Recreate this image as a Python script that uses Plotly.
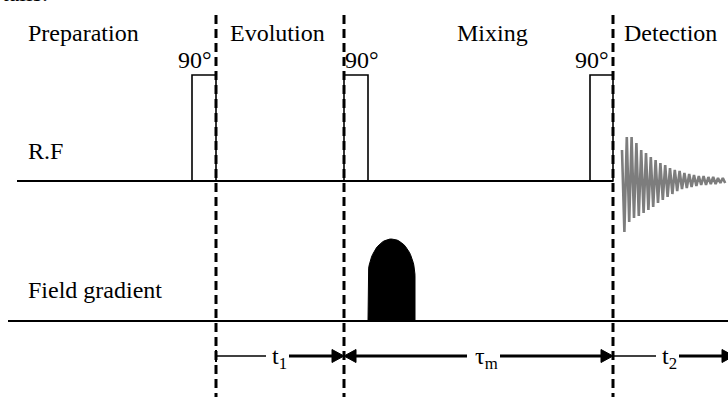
import math
import plotly.graph_objects as go

# ---------------- data (time axis in diagram units) ----------------
phase_names = ["Preparation", "Evolution", "Mixing", "Detection"]
phase_boundaries = [216, 344, 613]
pulse_starts = [192, 344, 590]
pulse_ends = [216, 368, 613]
pulse_labels = ["90°", "90°", "90°"]
channel_names = ["R.F", "Field gradient"]
gradient_start = [368]
gradient_end = [415]
gradient_height = [82]
delay_labels = ["t<sub>1</sub>", "τ<sub>m</sub>", "t<sub>2</sub>"]
delay_starts = [216, 344, 613]
delay_ends = [344, 613, 734]
# FID envelope (pixels above / below baseline per cycle)
fid_up = [31, 44, 44, 38, 31, 28, 24, 21, 18, 16, 13, 11, 10, 8, 7, 6, 5, 5, 4, 4, 3, 3]
fid_down = [51, 41, 37, 35, 32, 29, 26, 22, 19, 16, 13, 10, 8, 7, 6, 5, 4, 4, 3, 3, 2, 2]

# ---------------- layout constants ----------------
W, H = 728, 397
RF_Y = 181
GR_Y = 321
PULSE_TOP = 75
ARROW_Y = 356
FID_START = 622
FID_PERIOD = 4.8
FONT = "Liberation Serif, Times New Roman, serif"
FS = 24

fig = go.Figure()
shapes = []
annotations = []

# baselines
shapes.append(dict(type="line", x0=17, x1=phase_boundaries[2], y0=RF_Y, y1=RF_Y,
                   line=dict(color="black", width=2)))
shapes.append(dict(type="line", x0=8, x1=W + 5, y0=GR_Y, y1=GR_Y,
                   line=dict(color="black", width=2)))

# RF pulses
for s, e in zip(pulse_starts, pulse_ends):
    shapes.append(dict(type="rect", x0=s, x1=e, y0=PULSE_TOP, y1=RF_Y,
                       line=dict(color="black", width=1.6), fillcolor="rgba(0,0,0,0)"))

# gradient pulse (rectangle with elliptical top)
for s, e, h in zip(gradient_start, gradient_end, gradient_height):
    cx = (s + e) / 2
    rx = (e - s) / 2
    top = GR_Y - h
    ry = 38
    side_top = top + ry
    xs = [s, s]
    ys = [GR_Y, side_top]
    n = 40
    for k in range(n + 1):
        a = math.pi - math.pi * k / n
        xs.append(cx + rx * math.cos(a))
        ys.append(side_top - ry * math.sin(a))
    xs += [e, s]
    ys += [GR_Y, GR_Y]
    fig.add_trace(go.Scatter(x=xs, y=ys, mode="lines", fill="toself",
                             fillcolor="black", line=dict(color="black", width=1),
                             hoverinfo="skip", showlegend=False))

# FID
fx, fy = [], []
for i, (u, d) in enumerate(zip(fid_up, fid_down)):
    x0 = FID_START + i * FID_PERIOD
    fx += [x0, x0 + FID_PERIOD / 2]
    fy += [RF_Y - u, RF_Y + d]
fig.add_trace(go.Scatter(x=fx, y=fy, mode="lines",
                         line=dict(color="#7d7d7d", width=2.6),
                         hoverinfo="skip", showlegend=False))

# dashed phase boundaries
for b in phase_boundaries:
    shapes.append(dict(type="line", x0=b, x1=b, y0=15, y1=H + 5,
                       line=dict(color="black", width=3, dash="9px,5px")))

# delay arrows
def tri(tip, direction):
    L, hh = 12, 6.5
    base = tip - direction * L
    fig.add_trace(go.Scatter(x=[tip, base, base, tip], y=[ARROW_Y, ARROW_Y - hh, ARROW_Y + hh, ARROW_Y],
                             mode="lines", fill="toself", fillcolor="black",
                             line=dict(color="black", width=1), hoverinfo="skip", showlegend=False))

label_x = [279, 486, 669]
# t1
shapes.append(dict(type="line", x0=delay_starts[0], x1=label_x[0] - 13, y0=ARROW_Y, y1=ARROW_Y,
                   line=dict(color="black", width=1.5)))
shapes.append(dict(type="line", x0=delay_starts[0], x1=delay_starts[0], y0=ARROW_Y - 6, y1=ARROW_Y + 6,
                   line=dict(color="black", width=2)))
shapes.append(dict(type="line", x0=label_x[0] + 10, x1=delay_ends[0] - 10, y0=ARROW_Y, y1=ARROW_Y,
                   line=dict(color="black", width=3)))
tri(delay_ends[0], 1)
# tau_m
shapes.append(dict(type="line", x0=delay_starts[1] + 10, x1=label_x[1] - 19, y0=ARROW_Y, y1=ARROW_Y,
                   line=dict(color="black", width=3)))
shapes.append(dict(type="line", x0=label_x[1] + 14, x1=delay_ends[1] - 10, y0=ARROW_Y, y1=ARROW_Y,
                   line=dict(color="black", width=3)))
tri(delay_starts[1], -1)
tri(delay_ends[1], 1)
# t2
shapes.append(dict(type="line", x0=delay_starts[2], x1=label_x[2] - 13, y0=ARROW_Y, y1=ARROW_Y,
                   line=dict(color="black", width=1.5)))
shapes.append(dict(type="line", x0=label_x[2] + 10, x1=delay_ends[2] - 10, y0=ARROW_Y, y1=ARROW_Y,
                   line=dict(color="black", width=3)))
tri(delay_ends[2], 1)

for lab, lx in zip(delay_labels, label_x):
    annotations.append(dict(x=lx, y=ARROW_Y + 2, text=lab, showarrow=False,
                            xanchor="center", yanchor="middle",
                            font=dict(family=FONT, size=FS, color="black")))

# phase names
phase_x = [26, 228, 455, 622]
for name, px in zip(phase_names, phase_x):
    annotations.append(dict(x=px, y=33, text=name, showarrow=False,
                            xanchor="left", yanchor="middle",
                            font=dict(family=FONT, size=FS, color="black")))

# pulse labels
pl_x = [214, 343, 611]
pl_anchor = ["right", "left", "right"]
for lab, px, an in zip(pulse_labels, pl_x, pl_anchor):
    annotations.append(dict(x=px, y=60, text=lab, showarrow=False,
                            xanchor=an, yanchor="middle",
                            font=dict(family=FONT, size=FS, color="black")))

# channel names
for name, cy in zip(channel_names, [151, 290]):
    annotations.append(dict(x=26, y=cy, text=name, showarrow=False,
                            xanchor="left", yanchor="middle",
                            font=dict(family=FONT, size=FS, color="black")))

# cropped text from the page above the figure (reference shows only its bottom sliver)
annotations.append(dict(x=0, y=0, text="tails.", showarrow=False,
                        xanchor="left", yanchor="bottom", yshift=-8,
                        font=dict(family=FONT, size=FS, color="black")))

fig.update_layout(
    width=W, height=H,
    margin=dict(l=0, r=0, t=0, b=0),
    paper_bgcolor="white", plot_bgcolor="white",
    font=dict(family=FONT),
    xaxis=dict(range=[0, W], visible=False, fixedrange=True),
    yaxis=dict(range=[H, 0], visible=False, fixedrange=True),
    shapes=shapes, annotations=annotations,
    showlegend=False,
)
fig.write_html("out.html",
               config={"displayModeBar": False, "staticPlot": True},
               post_script="document.body.style.margin='0';document.body.style.overflow='hidden';")
